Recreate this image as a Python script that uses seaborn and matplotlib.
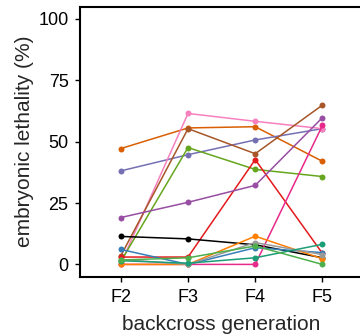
import matplotlib
matplotlib.use("Agg")
import matplotlib.pyplot as plt
import seaborn as sns
import pandas as pd

# ── Data ─────────────────────────────────────────────────────────────────────
generations = ["F2", "F3", "F4", "F5"]

cross_a = [47.2, 55.6, 56.1, 42.0]
cross_b = [38.1, 44.7, 50.7, 55.3]
cross_c = [0.3, 61.5, 58.3, 55.3]
cross_d = [3.5, 55.3, 45.1, 64.9]
cross_e = [1.2, 47.6, 38.7, 35.8]
cross_f = [3.0, 3.0, 42.7, 4.5]
cross_g = [19.1, 25.3, 32.2, 59.8]
cross_h = [11.4, 10.4, 8.0, 2.7]
cross_i = [0.0, 0.0, 0.0, 56.6]
cross_j = [6.1, 0.0, 6.8, 4.8]
cross_k = [0.0, 0.0, 11.5, 2.3]
cross_l = [2.0, 0.0, 8.9, 4.0]
cross_m = [1.5, 0.5, 2.7, 8.2]
cross_n = [1.8, 2.7, 7.5, 0.0]

series = {
    "A": cross_a, "B": cross_b, "C": cross_c, "D": cross_d, "E": cross_e,
    "F": cross_f, "G": cross_g, "H": cross_h, "I": cross_i, "J": cross_j,
    "K": cross_k, "L": cross_l, "M": cross_m, "N": cross_n,
}
colors = {
    "A": "#D95F02", "B": "#7570B3", "C": "#F781BF", "D": "#A65628",
    "E": "#66A61E", "F": "#E41A1C", "G": "#984EA3", "H": "#000000",
    "I": "#E7298A", "J": "#377EB8", "K": "#FF7F00", "L": "#999999",
    "M": "#1B9E77", "N": "#4DAF4A",
}

rows = []
for name, vals in series.items():
    for g, v in zip(generations, vals):
        rows.append({"cross": name, "generation": g, "lethality": v})
df = pd.DataFrame(rows)

# ── Plot ──────────────────────────────────────────────────────────────────────
sns.set_style("white")
plt.rcParams["font.family"] = ["Liberation Sans", "DejaVu Sans"]

fig = plt.figure(figsize=(3.6, 3.34), dpi=100)
ax = fig.add_axes([0.2236, 0.1716, 0.784, 0.8084])

sns.lineplot(data=df, x="generation", y="lethality", hue="cross",
             palette=colors, marker="o", markersize=4.3, markeredgewidth=0,
             linewidth=1.1, legend=False, sort=False, ax=ax)

ax.set_xlim(-0.6, 3.6)
ax.set_ylim(-5, 105)
ax.set_yticks([0, 25, 50, 75, 100])
ax.set_xlabel("backcross generation", fontsize=15, labelpad=6)
ax.set_ylabel("embryonic lethality (%)", fontsize=15, labelpad=3)
ax.tick_params(axis="both", labelsize=13, length=3.6, width=1, color="black",
               labelcolor="black", direction="out", left=True, bottom=True)
ax.tick_params(axis="x", pad=5.5)
ax.tick_params(axis="y", pad=5)
for s in ax.spines.values():
    s.set_color("black")
    s.set_linewidth(1.5)

fig.savefig("out.png", dpi=100)
